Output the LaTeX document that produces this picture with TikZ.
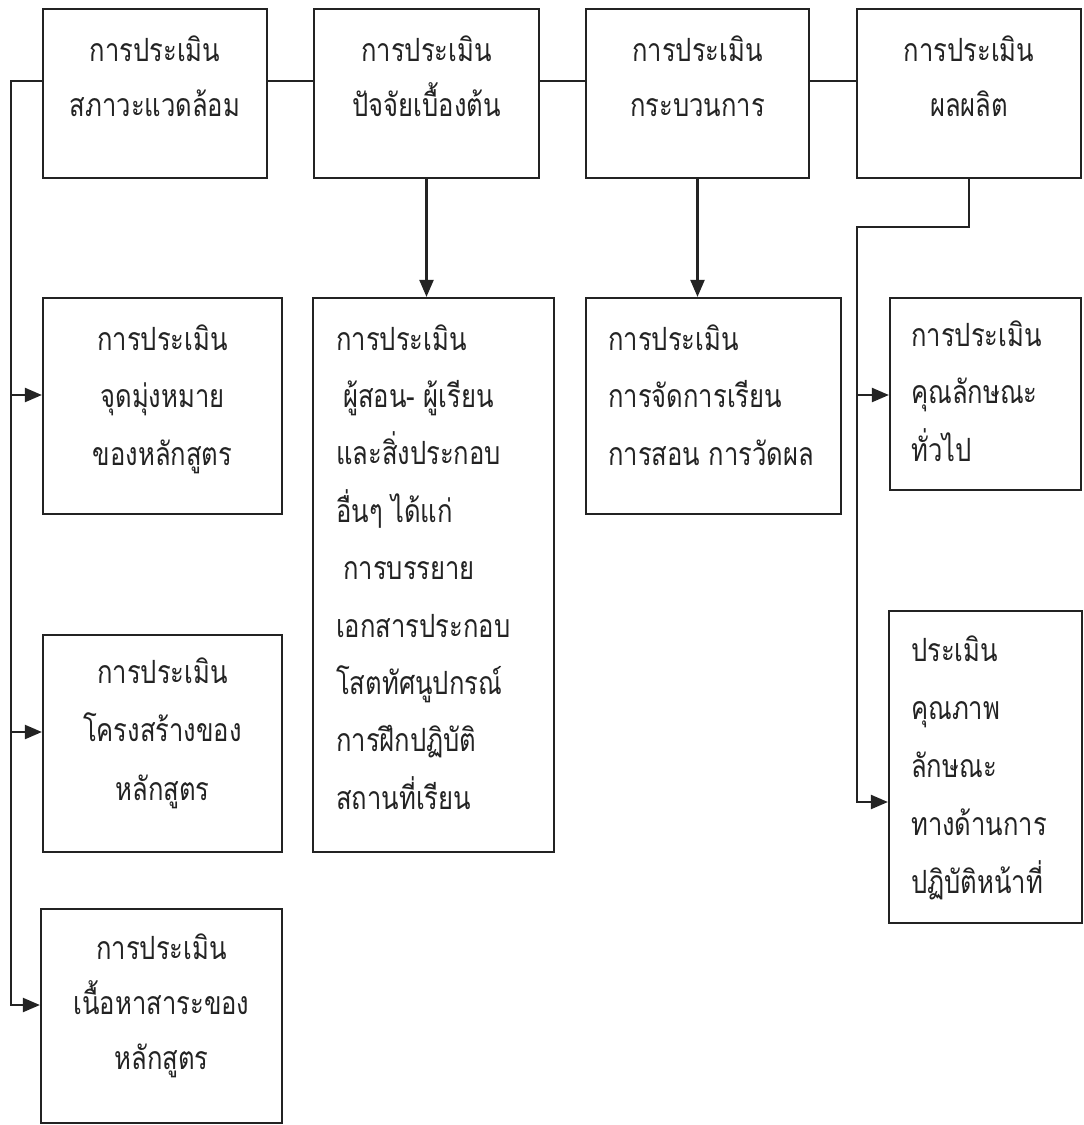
\documentclass[tikz,border=0pt]{standalone}
\usepackage{fontspec}
\newfontfamily\thaifont[Script=Thai,FakeStretch=0.8]{Loma}
\usetikzlibrary{arrows.meta}
\definecolor{ink}{RGB}{35,35,35}
\newcommand\boxlines[6]{% prefix, x, first baseline, anchor, spacing, list
  \foreach \t [count=\i] in {#6} {\node[tx, anchor=#4] (#1\i) at (#2, {#3+(\i-1)*#5}) {\t};}}
\begin{document}
\begin{tikzpicture}[x=1pt,y=-1pt,
  ln/.style={draw=ink, line width=2.2pt},
  arr/.style={ln, -{Triangle[length=17pt,width=14pt]}},
  bx/.style={draw=ink, line width=2.2pt, rectangle, inner sep=0pt},
  tx/.style={font=\thaifont\fontsize{32}{32}\selectfont, text=ink, inner sep=0pt}]
\useasboundingbox (0,0) rectangle (1084,1125);
% top row
\node[bx, minimum width=224pt, minimum height=169pt] (T1) at (155,93.5) {};
\node[bx, minimum width=225pt, minimum height=169pt] (T2) at (426.5,93.5) {};
\node[bx, minimum width=223pt, minimum height=169pt] (T3) at (697.5,93.5) {};
\node[bx, minimum width=224pt, minimum height=169pt] (T4) at (969,93.5) {};
% second level
\node[bx, minimum width=239pt, minimum height=216pt] (A) at (162.5,406) {};
\node[bx, minimum width=239pt, minimum height=217pt] (B) at (162.5,743.5) {};
\node[bx, minimum width=241pt, minimum height=214pt] (C) at (161.5,1016) {};
\node[bx, minimum width=241pt, minimum height=554pt] (D) at (433.5,575) {};
\node[bx, minimum width=255pt, minimum height=216pt] (E) at (713.5,406) {};
\node[bx, minimum width=191pt, minimum height=192pt] (F) at (985.5,394) {};
\node[bx, minimum width=193pt, minimum height=312pt] (G) at (985.5,767) {};
% texts
\boxlines{ta}{155}{61}{base}{55}{การประเมิน,สภาวะแวดล้อม}
\boxlines{tb}{426.5}{61}{base}{55}{การประเมิน,ปัจจัยเบื้องต้น}
\boxlines{tc}{697.5}{61}{base}{55}{การประเมิน,กระบวนการ}
\boxlines{td}{969}{61}{base}{55}{การประเมิน,ผลผลิต}
\boxlines{a}{162.5}{350}{base}{57.5}{การประเมิน,จุดมุ่งหมาย,ของหลักสูตร}
\boxlines{b}{162.5}{683}{base}{58.5}{การประเมิน,โครงสร้างของ,หลักสูตร}
\boxlines{c}{161.5}{959}{base}{55}{การประเมิน,เนื้อหาสาระของ,หลักสูตร}
\boxlines{d}{336}{350}{base west}{57.4}{การประเมิน,\hspace{7pt}ผู้สอน- ผู้เรียน,และสิ่งประกอบ,อื่นๆ ได้แก่,\hspace{7pt}การบรรยาย,เอกสารประกอบ,โสตทัศนูปกรณ์,การฝึกปฏิบัติ,สถานที่เรียน}
\boxlines{e}{608}{350}{base west}{57.5}{การประเมิน,การจัดการเรียน,การสอน การวัดผล}
\boxlines{f}{911}{346}{base west}{57.5}{การประเมิน,คุณลักษณะ,ทั่วไป}
\boxlines{g}{911}{661}{base west}{58}{ประเมิน,คุณภาพ,ลักษณะ,ทางด้านการ,ปฏิบัติหน้าที่}
% connectors
\coordinate (busTop) at (11,81);
\coordinate (busBot) at (11,1005);
\coordinate (bA) at (11,395);
\coordinate (bB) at (11,732);
\coordinate (rTop) at (857,227);
\coordinate (rF) at (857,395);
\coordinate (rG) at (857,802);
\draw[arr] (T1.west |- busTop) -- (busTop) -- (busBot) -- (C.west |- busBot);
\draw[arr] (bA) -- (A.west |- bA);
\draw[arr] (bB) -- (B.west |- bB);
\draw[ln] (T1.east |- busTop) -- (T2.west |- busTop);
\draw[ln] (T2.east |- busTop) -- (T3.west |- busTop);
\draw[ln] (T3.east |- busTop) -- (T4.west |- busTop);
\draw[arr] (T2.south) -- (T2.south |- D.north);
\draw[arr] (T3.south) -- (T3.south |- E.north);
\draw[arr] (T4.south) -- (T4.south |- rTop) -- (rTop) -- (rG) -- (G.west |- rG);
\draw[arr] (rF) -- (F.west |- rF);
\end{tikzpicture}
\end{document}
